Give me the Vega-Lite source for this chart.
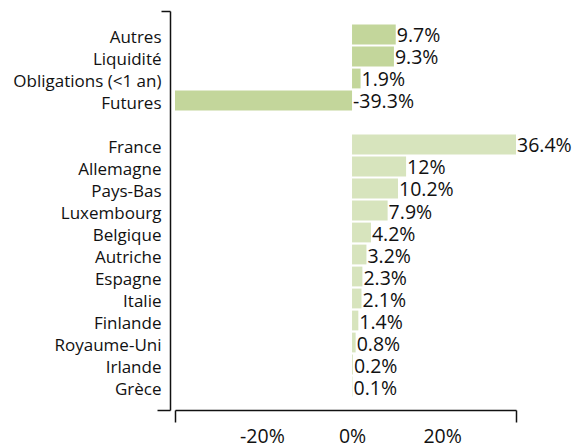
{
  "$schema": "https://vega.github.io/schema/vega-lite/v6.json",
  "autosize": {"type": "none"},
  "padding": {"left": 175, "top": 11, "right": 58, "bottom": 34},
  "width": 341,
  "height": 399,
  "config": {"view": {"stroke": null}, "font": "Open Sans", "axis": {"grid": false}},
  "data": {
    "values": [
      {"cat": "Autres", "v": 9.7, "g": "a"},
      {"cat": "Liquidité", "v": 9.3, "g": "a"},
      {"cat": "Obligations (<1 an)", "v": 1.9, "g": "a"},
      {"cat": "Futures", "v": -39.3, "g": "a"},
      {"cat": "France", "v": 36.4, "g": "b"},
      {"cat": "Allemagne", "v": 12, "g": "b"},
      {"cat": "Pays-Bas", "v": 10.2, "g": "b"},
      {"cat": "Luxembourg", "v": 7.9, "g": "b"},
      {"cat": "Belgique", "v": 4.2, "g": "b"},
      {"cat": "Autriche", "v": 3.2, "g": "b"},
      {"cat": "Espagne", "v": 2.3, "g": "b"},
      {"cat": "Italie", "v": 2.1, "g": "b"},
      {"cat": "Finlande", "v": 1.4, "g": "b"},
      {"cat": "Royaume-Uni", "v": 0.8, "g": "b"},
      {"cat": "Irlande", "v": 0.2, "g": "b"},
      {"cat": "Grèce", "v": 0.1, "g": "b"}
    ]
  },
  "layer": [
    {
      "transform": [{"calculate": "datum.v + '%'", "as": "label"}],
      "encoding": {
        "y": {
          "field": "cat",
          "type": "nominal",
          "title": null,
          "scale": {
            "domain": ["Autres", "Liquidité", "Obligations (<1 an)", "Futures", " ", "France", "Allemagne", "Pays-Bas", "Luxembourg", "Belgique", "Autriche", "Espagne", "Italie", "Finlande", "Royaume-Uni", "Irlande", "Grèce"],
            "paddingInner": 0.1,
            "paddingOuter": 0.618
          },
          "axis": {
            "domain": false,
            "ticks": false,
            "offset": 5,
            "labelPadding": 9,
            "labelFontSize": 17,
            "labelColor": "#111",
            "labelOffset": 3.5,
            "labelLimit": 300
          }
        }
      },
      "layer": [
        {
          "mark": {"type": "bar"},
          "encoding": {
            "x": {
              "field": "v",
              "type": "quantitative",
              "title": null,
              "scale": {"domain": [-39.3, 36.4], "nice": false},
              "axis": {
                "values": [-39.3, -20, 0, 20, 36.4],
                "labelExpr": "abs(datum.value) > 30 ? '' : datum.value + '%'",
                "tickSize": 12,
                "tickOpacity": {"condition": {"test": "abs(datum.value) > 30", "value": 1}, "value": 0},
                "tickColor": "#111",
                "tickWidth": 1.5,
                "domainColor": "#111",
                "domainWidth": 1.5,
                "labelFontSize": 19.5,
                "labelColor": "#111",
                "labelPadding": 5,
                "labelFlush": false,
                "labelOverlap": false,
                "grid": false
              }
            },
            "color": {
              "field": "g",
              "type": "nominal",
              "scale": {"domain": ["a", "b"], "range": ["#c3d69b", "#d7e4bd"]},
              "legend": null
            }
          }
        },
        {
          "transform": [{"filter": "datum.v >= 0"}],
          "mark": {"type": "text", "align": "left", "baseline": "middle", "dx": 1, "dy": 2, "fontSize": 19.5, "color": "#111"},
          "encoding": {
            "x": {"field": "v", "type": "quantitative", "title": null},
            "text": {"field": "label"}
          }
        },
        {
          "transform": [{"filter": "datum.v < 0"}],
          "mark": {"type": "text", "align": "left", "baseline": "middle", "dx": 1, "dy": 2, "fontSize": 19.5, "color": "#111"},
          "encoding": {
            "x": {"datum": 0, "type": "quantitative", "title": null},
            "text": {"field": "label"}
          }
        }
      ]
    },
    {
      "data": {"values": [{"t": 0}, {"t": 1}]},
      "mark": {"type": "point", "opacity": 0},
      "encoding": {
        "y": {
          "field": "t",
          "type": "quantitative",
          "title": null,
          "scale": {"domain": [0, 1], "nice": false},
          "axis": {
            "orient": "left",
            "values": [0, 1],
            "labels": false,
            "grid": false,
            "offset": 5,
            "domain": true,
            "domainColor": "#111",
            "domainWidth": 1.5,
            "ticks": true,
            "tickColor": "#111",
            "tickWidth": 1.5,
            "tickSize": {"condition": {"test": "datum.value == 0", "value": 13}, "value": 9}
          }
        }
      }
    }
  ],
  "resolve": {"scale": {"y": "independent"}}
}
